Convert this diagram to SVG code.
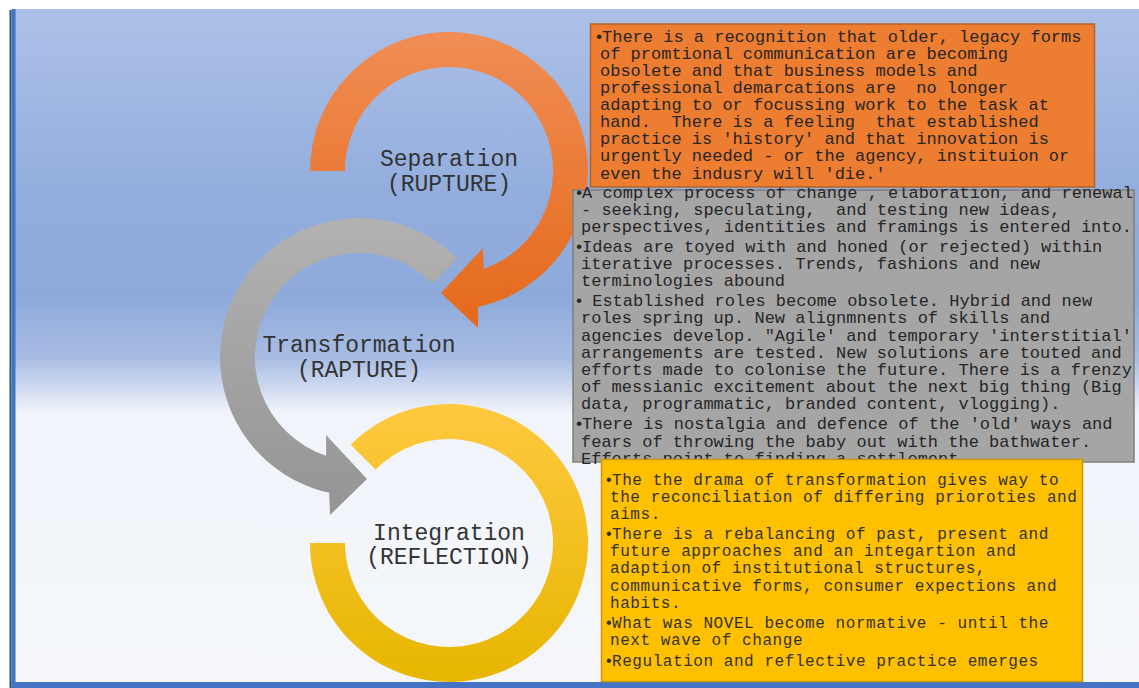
<svg xmlns="http://www.w3.org/2000/svg" width="1139" height="688" viewBox="0 0 1139 688">
  <defs>
    <linearGradient id="bg" x1="0" y1="9" x2="0" y2="682" gradientUnits="userSpaceOnUse">
      <stop offset="0" stop-color="#adc1e7"/>
      <stop offset="0.28" stop-color="#92addd"/>
      <stop offset="0.43" stop-color="#8eaadb"/>
      <stop offset="0.52" stop-color="#a9bde4"/>
      <stop offset="0.6" stop-color="#f1f4fb"/>
      <stop offset="1" stop-color="#f5f7fb"/>
    </linearGradient>
    <linearGradient id="gOrange" x1="0" y1="32" x2="0" y2="330" gradientUnits="userSpaceOnUse">
      <stop offset="0" stop-color="#f18d54"/>
      <stop offset="1" stop-color="#e4691a"/>
    </linearGradient>
    <linearGradient id="gGray" x1="0" y1="218" x2="0" y2="515" gradientUnits="userSpaceOnUse">
      <stop offset="0" stop-color="#b2b2b2"/>
      <stop offset="1" stop-color="#949494"/>
    </linearGradient>
    <linearGradient id="gYellow" x1="0" y1="404" x2="0" y2="682" gradientUnits="userSpaceOnUse">
      <stop offset="0" stop-color="#ffc940"/>
      <stop offset="1" stop-color="#e7b600"/>
    </linearGradient>
  </defs>
  <style>
    .label { font-family: "Liberation Mono", "Courier New", monospace; font-size: 23px; fill: #333333; text-anchor: middle; }
    .body { font-family: "Liberation Mono", "Courier New", monospace; font-size: 17px; fill: #262626; }
    .bodyY { font-family: "Liberation Mono", "Courier New", monospace; font-size: 16px; letter-spacing: 0.56px; fill: #333333; }
  </style>

  <rect x="0" y="0" width="1139" height="688" fill="#ffffff"/>
  <g id="frame">
    <rect x="15" y="9" width="1124" height="673" fill="url(#bg)"/>
    <rect x="9.5" y="10" width="2" height="678" fill="#1f5f6a"/>
    <rect x="11.5" y="9" width="4" height="679" fill="#4472c4"/>
    <rect x="11.5" y="682" width="1127.5" height="6" fill="#4472c4"/>
  </g>

  <g id="connectors">
    <path id="arrow-separation" d="M 310 171 A 139 139 0 1 1 478.1 306.9 L 478 328 L 441 293 L 483 248 L 483.7 269 A 104 104 0 1 0 345 171 Z" fill="url(#gOrange)"/>
    <path id="arrow-transformation" d="M 457.3 258.7 A 139 139 0 1 0 329.2 492.8 L 330 515 L 367 479 L 326 435 L 326.2 455.7 A 104 104 0 1 1 432.5 283.5 Z" fill="url(#gGray)"/>
    <path id="arrow-integration" d="M 350.7 444.7 A 139 139 0 1 1 310 543 L 345 543 A 104 104 0 1 0 375.5 469.5 Z" fill="url(#gYellow)"/>
  </g>

  <g id="node-separation">
    <text class="label" x="449" y="166">Separation</text>
    <text class="label" x="449" y="191">(RUPTURE)</text>
  </g>
  <g id="node-transformation">
    <text class="label" x="359" y="352">Transformation</text>
    <text class="label" x="359" y="377">(RAPTURE)</text>
  </g>
  <g id="node-integration">
    <text class="label" x="449" y="540">Integration</text>
    <text class="label" x="449" y="564">(REFLECTION)</text>
  </g>

  <g id="box-transformation">
    <rect x="573" y="190" width="561" height="272" fill="#a5a5a5" stroke="#7f7f7f" stroke-width="1.5"/>
    <text class="body" xml:space="preserve"><tspan x="574" y="198">•</tspan><tspan x="582" y="198">A complex process of change , elaboration, and renewal</tspan><tspan x="581" y="215">- seeking, speculating,  and testing new ideas,</tspan><tspan x="581" y="232">perspectives, identities and framings is entered into.</tspan><tspan x="574" y="252">•</tspan><tspan x="582" y="252">Ideas are toyed with and honed (or rejected) within</tspan><tspan x="581" y="269">iterative processes. Trends, fashions and new</tspan><tspan x="581" y="286">terminologies abound</tspan><tspan x="574" y="306">•</tspan><tspan x="582" y="306"> Established roles become obsolete. Hybrid and new</tspan><tspan x="581" y="323.2">roles spring up. New alignmnents of skills and</tspan><tspan x="581" y="340.5">agencies develop. "Agile' and temporary 'interstitial'</tspan><tspan x="581" y="357.7">arrangements are tested. New solutions are touted and</tspan><tspan x="581" y="375">efforts made to colonise the future. There is a frenzy</tspan><tspan x="581" y="392">of messianic excitement about the next big thing (Big</tspan><tspan x="581" y="409.2">data, programmatic, branded content, vlogging).</tspan><tspan x="574" y="429.3">•</tspan><tspan x="582" y="429.3">There is nostalgia and defence of the 'old' ways and</tspan><tspan x="581" y="446.5">fears of throwing the baby out with the bathwater.</tspan><tspan x="581" y="464">Efforts point to finding a settlement</tspan></text>
  </g>

  <g id="box-separation">
    <rect x="590.5" y="24" width="504" height="163" fill="#ed7d31" stroke="#b8622a" stroke-width="1.5"/>
    <text class="body" xml:space="preserve"><tspan x="594" y="41.7">•</tspan><tspan x="602" y="41.7">There is a recognition that older, legacy forms</tspan><tspan x="600" y="58.8">of promtional communication are becoming</tspan><tspan x="600" y="75.9">obsolete and that business models and</tspan><tspan x="600" y="93">professional demarcations are  no longer</tspan><tspan x="600" y="110.1">adapting to or focussing work to the task at</tspan><tspan x="600" y="127.2">hand.  There is a feeling  that established</tspan><tspan x="600" y="144.3">practice is 'history' and that innovation is</tspan><tspan x="600" y="161.4">urgently needed - or the agency, instituion or</tspan><tspan x="600" y="178.5">even the indusry will 'die.'</tspan></text>
  </g>

  <g id="box-integration">
    <rect x="601.5" y="459.5" width="481" height="222" fill="#ffc000" stroke="#c99a00" stroke-width="1.5"/>
    <text class="bodyY" xml:space="preserve"><tspan x="604" y="485">•</tspan><tspan x="612" y="485">The the drama of transformation gives way to</tspan><tspan x="610" y="502">the reconciliation of differing prioroties and</tspan><tspan x="610" y="519">aims.</tspan><tspan x="604" y="539">•</tspan><tspan x="612" y="539">There is a rebalancing of past, present and</tspan><tspan x="610" y="556">future approaches and an integartion and</tspan><tspan x="610" y="573.3">adaption of institutional structures,</tspan><tspan x="610" y="590.6">communicative forms, consumer expections and</tspan><tspan x="610" y="607.8">habits.</tspan><tspan x="604" y="628.3">•</tspan><tspan x="612" y="628.3">What was NOVEL become normative - until the</tspan><tspan x="610" y="645.3">next wave of change</tspan><tspan x="604" y="665.8">•</tspan><tspan x="612" y="665.8">Regulation and reflective practice emerges</tspan></text>
  </g>
</svg>
